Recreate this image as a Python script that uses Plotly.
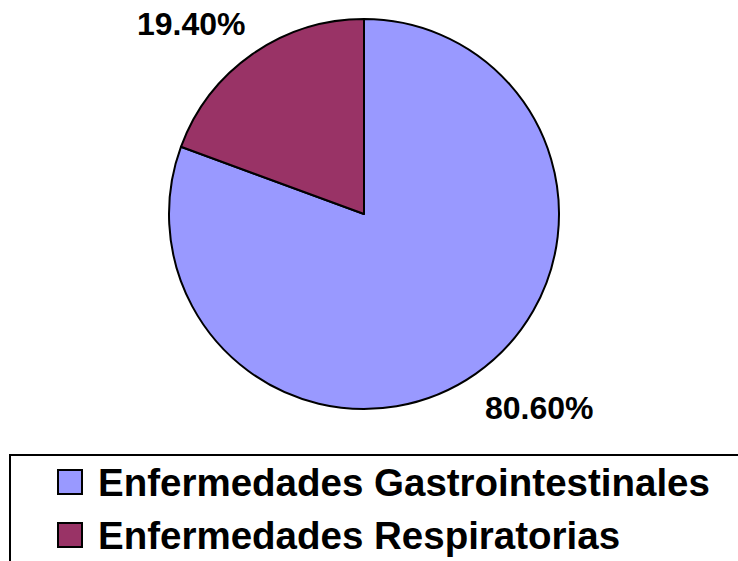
import plotly.graph_objects as go

W, H = 738, 561

# Datos
categorias = ["Enfermedades Gastrointestinales", "Enfermedades Respiratorias"]
porcentajes = [80.6, 19.4]
colores = ["#9999FF", "#993366"]

FONT = "Liberation Sans, Arial, sans-serif"

fig = go.Figure()

fig.add_trace(go.Pie(
    labels=categorias,
    values=porcentajes,
    sort=False,
    direction="clockwise",
    rotation=0,
    marker=dict(colors=colores, line=dict(color="black", width=2)),
    textinfo="none",
    hoverinfo="label+percent",
    showlegend=False,
    domain=dict(x=[169 / W, 559 / W], y=[1 - 409 / H, 1 - 19 / H]),
))

# Etiquetas de porcentaje (texto tomado de los datos)
label_pos = [(539, 408), (191, 24)]
for v, (px, py) in zip(porcentajes, label_pos):
    fig.add_annotation(
        x=px / W, y=1 - py / H, xref="paper", yref="paper",
        text=f"<b>{v:.2f}%</b>", showarrow=False,
        font=dict(size=32, color="black", family=FONT),
        xanchor="center", yanchor="middle",
    )

# Leyenda (caja recortada por el borde, como en el original)
fig.add_shape(
    type="rect", xref="paper", yref="paper",
    x0=10 / W, x1=1.2, y0=-0.2, y1=1 - 455 / H,
    line=dict(color="black", width=2), fillcolor="rgba(0,0,0,0)",
)
rows_y = [482, 535]
for name, col, ry in zip(categorias, colores, rows_y):
    fig.add_shape(
        type="rect", xref="paper", yref="paper",
        x0=58 / W, x1=82 / W, y0=1 - (ry + 12) / H, y1=1 - (ry - 12) / H,
        fillcolor=col, line=dict(color="black", width=2),
    )
    fig.add_annotation(
        x=96 / W, y=1 - ry / H, xref="paper", yref="paper",
        text=f"<b>{name}</b>", showarrow=False,
        font=dict(size=38.5, color="black", family=FONT),
        xanchor="left", yanchor="middle",
    )

fig.update_layout(
    width=W, height=H,
    margin=dict(l=0, r=0, t=0, b=0),
    paper_bgcolor="white",
    plot_bgcolor="white",
    font=dict(family=FONT),
)

fig.write_html(
    "out.html",
    config={"displayModeBar": False},
    post_script="document.body.style.margin='0';document.body.style.overflow='hidden';",
)
